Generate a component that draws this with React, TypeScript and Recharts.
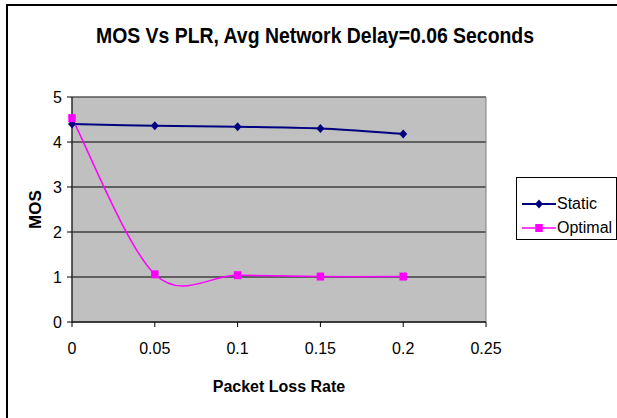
import React from 'react';
import {
  LineChart,
  Line,
  XAxis,
  YAxis,
  CartesianGrid,
  Legend,
  ReferenceArea,
} from 'recharts';

const plr = [0, 0.05, 0.1, 0.15, 0.2];
const staticMos = [4.4, 4.36, 4.34, 4.3, 4.18];
const optimalMos = [4.53, 1.06, 1.04, 1.01, 1.01];
const xTicks = [0, 0.05, 0.1, 0.15, 0.2, 0.25];
const yTicks = [0, 1, 2, 3, 4, 5];
const seriesNames = ['Static', 'Optimal'];

const FONT = "'Liberation Sans', Arial, sans-serif";
const STATIC_COLOR = '#000080';
const OPTIMAL_COLOR = '#FF00FF';

const data = plr.map((x, i) => ({ plr: x, static: staticMos[i], optimal: optimalMos[i] }));

// Excel-style smoothed line: cubic bezier with Catmull-Rom tangents (1/6 tension)
function excelSmooth(context: any) {
  let xs: number[] = [];
  let ys: number[] = [];
  return {
    areaStart() {},
    areaEnd() {},
    lineStart() {
      xs = [];
      ys = [];
    },
    point(x: number, y: number) {
      xs.push(+x);
      ys.push(+y);
    },
    lineEnd() {
      const n = xs.length;
      if (!n) return;
      context.moveTo(xs[0], ys[0]);
      for (let i = 0; i < n - 1; i++) {
        const p = i > 0 ? i - 1 : i;
        const q = i + 2 < n ? i + 2 : i + 1;
        const c1x = xs[i] + (xs[i + 1] - xs[p]) / 6;
        const c1y = ys[i] + (ys[i + 1] - ys[p]) / 6;
        const c2x = xs[i + 1] - (xs[q] - xs[i]) / 6;
        const c2y = ys[i + 1] - (ys[q] - ys[i]) / 6;
        context.bezierCurveTo(c1x, c1y, c2x, c2y, xs[i + 1], ys[i + 1]);
      }
    },
  };
}

function Diamond({ cx, cy, fill }: { cx: number; cy: number; fill: string }) {
  return <path d={`M${cx},${cy - 4.5}L${cx + 4},${cy}L${cx},${cy + 4.5}L${cx - 4},${cy}Z`} fill={fill} />;
}

function Square({ cx, cy, fill }: { cx: number; cy: number; fill: string }) {
  return <rect x={cx - 3.75} y={cy - 4} width={7.5} height={8} fill={fill} />;
}

function LegendBox() {
  const items = [
    { name: seriesNames[0], color: STATIC_COLOR, marker: 'diamond' },
    { name: seriesNames[1], color: OPTIMAL_COLOR, marker: 'square' },
  ];
  return (
    <div
      style={{
        width: 99,
        height: 61,
        border: '1px solid #000',
        background: '#fff',
        fontFamily: FONT,
        fontSize: 16,
        color: '#000',
        boxSizing: 'content-box',
      }}
    >
      {items.map((item, i) => (
        <div key={item.name} style={{ display: 'flex', alignItems: 'center', height: 24, marginTop: i === 0 ? 14 : 0 }}>
          <svg width={40} height={14} style={{ flex: 'none' }}>
            <line x1={5} y1={7} x2={39} y2={7} stroke={item.color} strokeWidth={item.marker === 'diamond' ? 2 : 1.5} />
            {item.marker === 'diamond' ? (
              <Diamond cx={22} cy={7} fill={item.color} />
            ) : (
              <Square cx={22} cy={7} fill={item.color} />
            )}
          </svg>
          <span>{item.name}</span>
        </div>
      ))}
    </div>
  );
}

export default function App() {
  return (
    <div
      style={{
        position: 'absolute',
        left: 0,
        top: 0,
        width: 617,
        height: 418,
        background: '#fff',
        overflow: 'hidden',
      }}
    >
      <div
        style={{
          position: 'absolute',
          left: 6,
          top: 4,
          width: 700,
          height: 500,
          border: '2px solid #000',
        }}
      />
      <svg width={617} height={418} style={{ position: 'absolute', left: 0, top: 0 }}>
        <text
          x={315}
          y={43}
          textAnchor="middle"
          textLength={438}
          lengthAdjust="spacingAndGlyphs"
          fontFamily={FONT}
          fontWeight="bold"
          fontSize={22}
          fill="#000"
        >
          MOS Vs PLR, Avg Network Delay=0.06 Seconds
        </text>
      </svg>
      <div style={{ position: 'absolute', left: 0, top: 0 }}>
        <LineChart width={617} height={418} data={data} margin={{ top: 97, right: 131, bottom: 0, left: 0 }}>
          <CartesianGrid fill="#C0C0C0" stroke="#000" vertical={false} horizontalValues={yTicks} />
          <ReferenceArea x1={0} x2={0.25} y1={0} y2={5} fill="none" stroke="#808080" strokeOpacity={1} />
          <XAxis
            type="number"
            dataKey="plr"
            domain={[0, 0.25]}
            ticks={xTicks}
            height={96}
            stroke="#000"
            tickSize={5}
            tickMargin={16}
            tick={{ fill: '#000', fontSize: 16, fontFamily: FONT }}
            label={{
              value: 'Packet Loss Rate',
              position: 'insideBottom',
              offset: 26,
              fill: '#000',
              fontSize: 16,
              fontWeight: 'bold',
              fontFamily: FONT,
            }}
          />
          <YAxis
            type="number"
            domain={[0, 5]}
            ticks={yTicks}
            width={72}
            stroke="#000"
            tickSize={5}
            tickMargin={5}
            tick={{ fill: '#000', fontSize: 16, fontFamily: FONT }}
            label={{
              content: (props: any) => {
                const vb = props.viewBox || { x: 0, y: 97, width: 72, height: 225 };
                const x = vb.x + 35;
                const y = vb.y + vb.height / 2;
                return (
                  <text
                    x={x}
                    y={y}
                    transform={`rotate(-90 ${x} ${y})`}
                    textAnchor="middle"
                    dominantBaseline="central"
                    fontFamily={FONT}
                    fontWeight="bold"
                    fontSize={17}
                    fill="#000"
                  >
                    MOS
                  </text>
                );
              },
            }}
          />
          <Legend
            layout="vertical"
            align="center"
            verticalAlign="middle"
            wrapperStyle={{ left: 516, top: 177, width: 101 }}
            content={() => <LegendBox />}
          />
          <Line
            type={excelSmooth as any}
            dataKey="static"
            name={seriesNames[0]}
            stroke={STATIC_COLOR}
            strokeWidth={2}
            dot={(p: any) => <Diamond key={`s-${p.index}`} cx={p.cx} cy={p.cy} fill={STATIC_COLOR} />}
            activeDot={false}
            isAnimationActive={false}
          />
          <Line
            type={excelSmooth as any}
            dataKey="optimal"
            name={seriesNames[1]}
            stroke={OPTIMAL_COLOR}
            strokeWidth={1.5}
            dot={(p: any) => <Square key={`o-${p.index}`} cx={p.cx} cy={p.cy} fill={OPTIMAL_COLOR} />}
            activeDot={false}
            isAnimationActive={false}
          />
        </LineChart>
      </div>
    </div>
  );
}
